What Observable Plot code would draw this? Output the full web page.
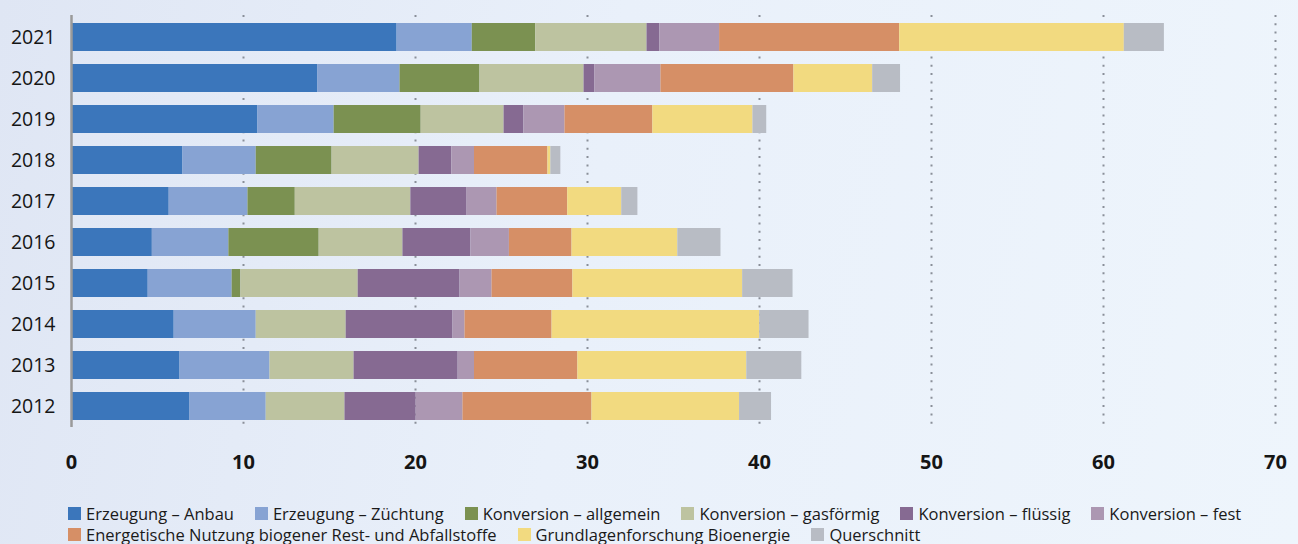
<!DOCTYPE html>
<html>
<head>
<meta charset="utf-8">
<script src="https://cdn.jsdelivr.net/npm/d3@7"></script>
<script src="https://cdn.jsdelivr.net/npm/@observablehq/plot@0.6"></script>
<style>
  html, body { margin: 0; padding: 0; }
  body {
    width: 1298px; height: 544px; overflow: hidden;
    background: linear-gradient(100deg, #dfe6f4 0%, #e9f0fa 45%, #eef5fc 100%);
    font-family: "Open Sans", sans-serif;
  }
  #chart svg { display: block; background: transparent; }
  #legend { margin-top: 23px; padding-left: 68px; font-size: 16.5px; color: #1a1a1a; line-height: 21px; }
  .row { display: flex; white-space: nowrap; }
  .item { display: flex; align-items: center; margin-right: 21px; }
  .sw { width: 13px; height: 13px; margin-right: 5px; display: inline-block; }
</style>
</head>
<body>
<div id="chart"></div>
<div id="legend"></div>
<script>
const years = ["2021","2020","2019","2018","2017","2016","2015","2014","2013","2012"];
const categories = [
  "Erzeugung – Anbau",
  "Erzeugung – Züchtung",
  "Konversion – allgemein",
  "Konversion – gasförmig",
  "Konversion – flüssig",
  "Konversion – fest",
  "Energetische Nutzung biogener Rest- und Abfallstoffe",
  "Grundlagenforschung Bioenergie",
  "Querschnitt"
];
const colors = ["#3b76bb","#87a3d3","#7b9151","#bdc3a0","#866a92","#ac97b2","#d68f66","#f2da80","#b8bcc4"];

// values per year, in category order (Mio. €)
const anbau       = [18.93, 14.33, 10.84, 6.48, 5.68, 4.70, 4.46, 5.97, 6.31, 6.89];
const zuechtung   = [ 4.37,  4.77,  4.43, 4.26, 4.58, 4.45, 4.88, 4.77, 5.23, 4.43];
const allgemein   = [ 3.69,  4.65,  5.06, 4.41, 2.75, 5.25, 0.51, 0.00, 0.00, 0.00];
const gasfoermig  = [ 6.47,  6.05,  4.82, 5.06, 6.72, 4.87, 6.82, 5.23, 4.89, 4.58];
const fluessig    = [ 0.75,  0.62,  1.15, 1.90, 3.27, 3.95, 5.92, 6.21, 6.05, 4.14];
const fest        = [ 3.47,  3.85,  2.39, 1.32, 1.74, 2.24, 1.86, 0.70, 0.95, 2.72];
const energetisch = [10.47,  7.73,  5.11, 4.27, 4.11, 3.64, 4.70, 5.06, 6.01, 7.50];
const grundlagen  = [13.06,  4.58,  5.82, 0.17, 3.14, 6.15, 9.87,12.07, 9.82, 8.58];
const querschnitt = [ 2.33,  1.62,  0.80, 0.58, 0.94, 2.51, 2.93, 2.87, 3.20, 1.86];
const xTicks = [0, 10, 20, 30, 40, 50, 60, 70];

const series = [anbau, zuechtung, allgemein, gasfoermig, fluessig, fest, energetisch, grundlagen, querschnitt];
const data = [];
years.forEach((y, i) => {
  categories.forEach((c, j) => data.push({year: y, category: c, value: series[j][i]}));
});

const chart = Plot.plot({
  width: 1298,
  height: 480,
  marginLeft: 71,
  marginRight: 23,
  marginTop: 15,
  marginBottom: 53,
  style: {background: "transparent", fontFamily: "Open Sans, sans-serif"},
  x: {domain: [0, 70], ticks: xTicks, label: null},
  y: {domain: years, paddingInner: 0.32, paddingOuter: 0.16, label: null},
  color: {domain: categories, range: colors},
  marks: [
    Plot.ruleX(xTicks.filter(d => d > 0), {stroke: "#8a8f99", strokeWidth: 2, strokeDasharray: "2,6.3"}),
    Plot.barX(data, {x: "value", y: "year", fill: "category", order: categories}),
    Plot.ruleX([0], {stroke: "#9a9a9a", strokeWidth: 2.5}),
    Plot.axisY({tickSize: 0, tickPadding: 16, fontSize: 19.5, fill: "#151515"}),
    Plot.axisX(xTicks, {tickSize: 0, tickPadding: 27, fontSize: 20, fontWeight: "bold", fill: "#151515"})
  ]
});
document.getElementById("chart").appendChild(chart);

const legend = document.getElementById("legend");
const rows = [categories.slice(0, 6), categories.slice(6)];
rows.forEach(r => {
  const row = document.createElement("div");
  row.className = "row";
  r.forEach(c => {
    const it = document.createElement("div");
    it.className = "item";
    const sw = document.createElement("span");
    sw.className = "sw";
    sw.style.background = colors[categories.indexOf(c)];
    it.appendChild(sw);
    it.appendChild(document.createTextNode(c));
    row.appendChild(it);
  });
  legend.appendChild(row);
});
</script>
</body>
</html>
